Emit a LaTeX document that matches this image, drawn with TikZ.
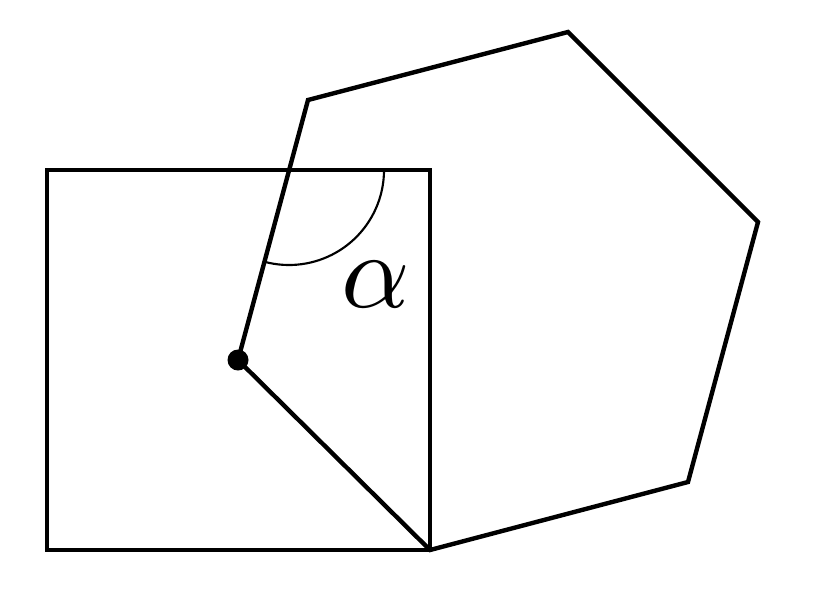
\documentclass[tikz,border=0pt]{standalone}
\begin{document}
\begin{tikzpicture}[x=0.75pt,y=-0.75pt,
  thick line/.style={line width=3.3pt,line join=miter},
  thin line/.style={line width=1.6pt}]
\useasboundingbox (0,0) rectangle (820,604);
\coordinate (s1) at (47,170);
\coordinate (s2) at (430,170);
\coordinate (s3) at (430,550);
\coordinate (s4) at (47,550);
\coordinate (h1) at (238,360);
\coordinate (h2) at (688,482);
\coordinate (h3) at (758,222);
\coordinate (h4) at (568,32);
\coordinate (h5) at (308,100);
\coordinate (x) at (289,170);
\draw[thick line] (s1) -- (s2) -- (s3) -- (s4) -- cycle;
\draw[thick line] (h1) -- (s3) -- (h2) -- (h3) -- (h4) -- (h5) -- cycle;
\draw[thin line] ([xshift=95*0.75pt]x) arc[start angle=0,end angle=-105,radius=95*0.75pt];
\fill (h1) circle[radius=10.5*0.75pt];
\node[inner sep=0pt,scale=8] (a) at (376,285) {$\alpha$};
\end{tikzpicture}
\end{document}
